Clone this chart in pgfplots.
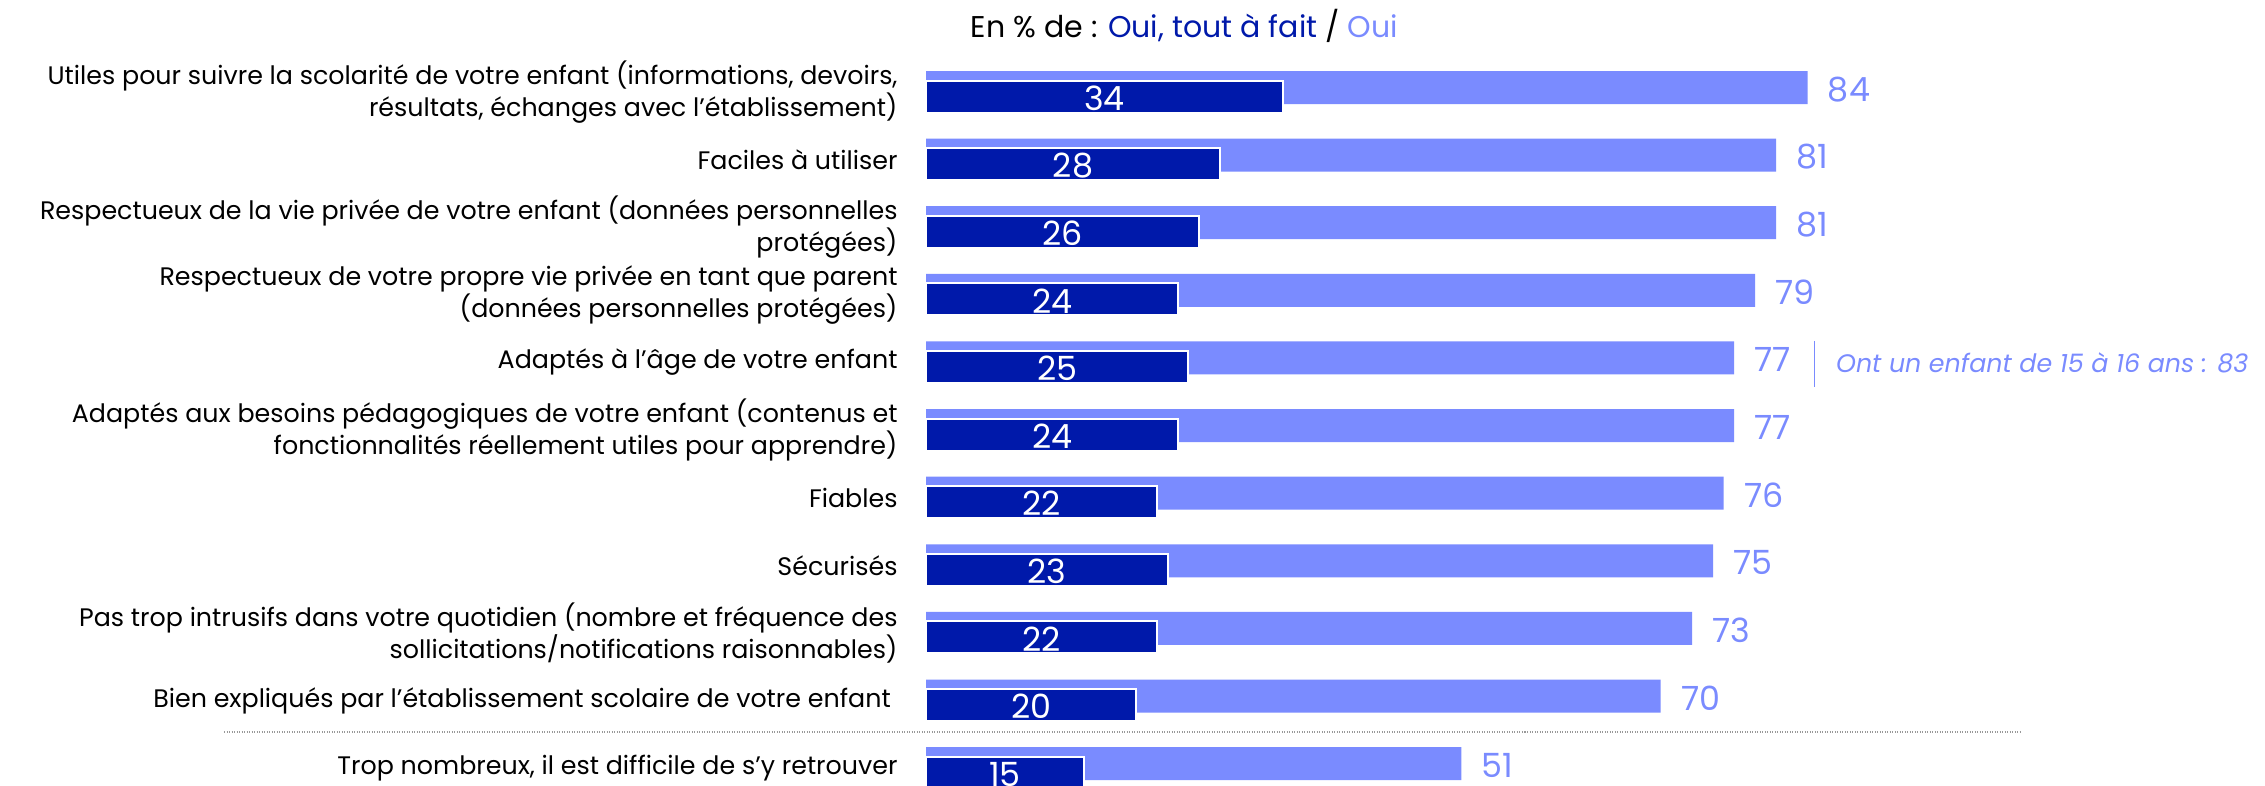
\documentclass[border=0pt]{standalone}
\usepackage{pgfplots}
\pgfplotsset{compat=1.18}
\usepackage{pgfplotstable}
\usepackage{fontspec}
\setmainfont{Poppins}
\definecolor{fonce}{RGB}{0,25,170}
\definecolor{clair}{RGB}{122,139,255}

% row = position (0 = top), oui = Oui, tout a fait + Oui ; tat = Oui, tout a fait
\pgfplotstableread{
row oui tat
0 84 34
1 81 28
2 81 26
3 79 24
4 77 25
5 77 24
6 76 22
7 75 23
8 73 22
9 70 20
10 51 15
}\donnees

\begin{document}
\begin{tikzpicture}
\begin{axis}[
    x=3.147pt, y=20.28pt, y dir=reverse,
    xmin=0, xmax=127.6, ymin=-1.361, ymax=10.251,
    axis line style={draw=none},
    major tick length=0pt,
    xtick=\empty,
    ytick={0,...,10},
    /pgf/number format/assume math mode=true,
    yticklabels={
      {Utiles pour suivre la scolarité de votre enfant (informations, devoirs,\\résultats, échanges avec l’établissement)},
      {Faciles à utiliser},
      {Respectueux de la vie privée de votre enfant (données personnelles\\protégées)},
      {Respectueux de votre propre vie privée en tant que parent\\(données personnelles protégées)},
      {Adaptés à l’âge de votre enfant},
      {Adaptés aux besoins pédagogiques de votre enfant (contenus et\\fonctionnalités réellement utiles pour apprendre)},
      {Fiables},
      {Sécurisés},
      {Pas trop intrusifs dans votre quotidien (nombre et fréquence des\\sollicitations/notifications raisonnables)},
      {Bien expliqués par l’établissement scolaire de votre enfant\ },
      {Trop nombreux, il est difficile de s’y retrouver}
    },
    yticklabel style={anchor=east, align=right, inner sep=0pt, xshift=-8.4pt,
      font=\fontsize{7.6}{9.6}\selectfont},
    clip=false,
]
% Oui (total)
\addplot[xbar, bar width=9.9pt, bar shift=1.35pt, fill=clair, draw=none,
    nodes near coords,
    nodes near coords style={anchor=west, xshift=2.6pt, yshift=0.8pt, text=clair,
      font=\fontsize{10}{12}\selectfont}]
    table[x=oui, y=row] {\donnees};
% Oui, tout a fait
\addplot[xbar, bar width=9.6pt, bar shift=-1.35pt, fill=fonce, draw=white, line width=0.6pt]
    table[x=tat, y=row] {\donnees};
% labels in the dark bars
\addplot[only marks, mark=*, mark size=0pt, mark options={draw=none, fill=none},
    point meta=explicit,
    nodes near coords,
    nodes near coords style={anchor=center, yshift=-1.8pt, text=white,
      font=\fontsize{10}{12}\selectfont}]
    table[x expr=\thisrow{tat}/2, y=row, meta=tat] {\donnees};

\node[font=\fontsize{9}{11}\selectfont] at (axis cs:24.6,-0.976)
  {En \% de : \textcolor{fonce}{Oui, tout à fait} / \textcolor{clair}{Oui}};
\draw[gray!80, line width=0.4pt, dash pattern=on 0.3pt off 0.45pt]
  (axis cs:-66.9,9.467) -- (axis cs:104.4,9.467);
\draw[clair, line width=0.5pt] (axis cs:84.65,3.68) -- (axis cs:84.65,4.36);
\node[anchor=west, text=clair, font=\itshape\fontsize{7.6}{9}\selectfont]
  at (axis cs:85.6,4) {Ont un enfant de 15 à 16 ans : 83};

\coordinate (BL) at (axis description cs:0,0);
\coordinate (TR) at (axis description cs:1,1);
\end{axis}
\pgfresetboundingbox
\path[use as bounding box] ([xshift=-277.8pt]BL) rectangle (TR);
\end{tikzpicture}
\end{document}
